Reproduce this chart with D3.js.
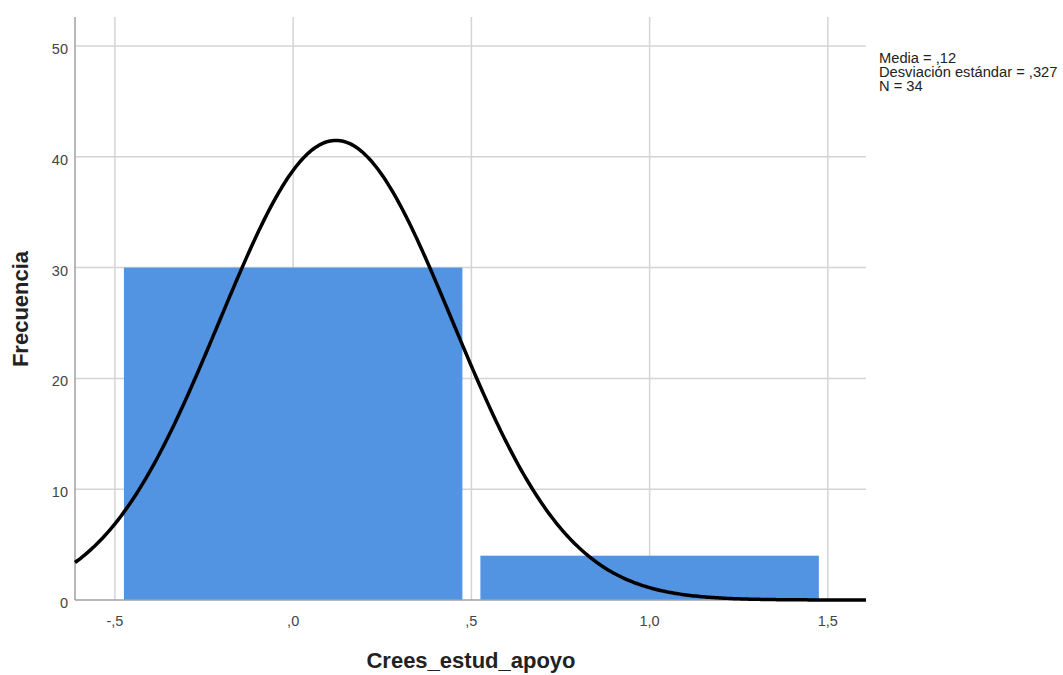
<!DOCTYPE html>
<html><head><meta charset="utf-8">
<script src="https://cdn.jsdelivr.net/npm/d3@7"></script>
<style>
html,body{margin:0;padding:0;background:#fff;}
text{font-family:"Liberation Sans",Arial,sans-serif;}
</style></head>
<body>
<svg id="c" width="1063" height="675"></svg>
<script>
// Data
const binCenters = [0, 1];
const binCounts = [30, 4];
const binWidth = 1;
const stats = { mean: 0.12, sd: 0.327, n: 34 };
const xTicks = [-0.5, 0, 0.5, 1.0, 1.5];
const xTickLabels = ["-,5", ",0", ",5", "1,0", "1,5"];
const yTicks = [0, 10, 20, 30, 40, 50];
const legendLines = ["Media = ,12", "Desviación estándar = ,327", "N = 34"];

const svg = d3.select("#c");
const L = 75, R = 866, T = 17, B = 600;
const x = d3.scaleLinear().domain([-0.612, 1.607]).range([L, R]);
const y = d3.scaleLinear().domain([0, 50]).range([B, 46]);

// gridlines
const g = svg.append("g");
g.selectAll(".hg").data(yTicks.filter(d => d > 0)).join("line")
  .attr("x1", L).attr("x2", R).attr("y1", d => y(d)).attr("y2", d => y(d))
  .attr("stroke", "#d4d4d4").attr("stroke-width", 1.5);
g.selectAll(".vg").data(xTicks).join("line")
  .attr("x1", d => x(d)).attr("x2", d => x(d)).attr("y1", T).attr("y2", B)
  .attr("stroke", "#d4d4d4").attr("stroke-width", 1.5);

// bars
const inset = 9;
svg.append("g").selectAll("rect").data(binCenters.map((c, i) => ({c, v: binCounts[i]}))).join("rect")
  .attr("x", d => x(d.c - binWidth / 2) + inset)
  .attr("width", d => x(d.c + binWidth / 2) - x(d.c - binWidth / 2) - 2 * inset)
  .attr("y", d => y(d.v))
  .attr("height", d => y(0) - y(d.v))
  .attr("fill", "#5294e2");

// axes lines
svg.append("line").attr("x1", L).attr("x2", L).attr("y1", T).attr("y2", B)
  .attr("stroke", "#a0a0a0").attr("stroke-width", 1.5);
svg.append("line").attr("x1", L).attr("x2", R).attr("y1", B).attr("y2", B)
  .attr("stroke", "#a0a0a0").attr("stroke-width", 1.5);

// normal curve from the stated statistics
const dom = x.domain();
const pts = d3.range(0, 401).map(i => dom[0] + (dom[1] - dom[0]) * i / 400);
const dens = v => stats.n * binWidth / (stats.sd * Math.sqrt(2 * Math.PI)) *
  Math.exp(-0.5 * Math.pow((v - stats.mean) / stats.sd, 2));
svg.append("path").datum(pts)
  .attr("d", d3.line().x(d => x(d)).y(d => y(dens(d))).curve(d3.curveLinear))
  .attr("fill", "none").attr("stroke", "#000").attr("stroke-width", 3.5);

// tick labels
svg.append("g").selectAll("text").data(xTicks).join("text")
  .attr("x", d => x(d)).attr("y", 626).attr("text-anchor", "middle")
  .attr("font-size", 14.5).attr("fill", "#444").text((d, i) => xTickLabels[i]);
svg.append("g").selectAll("text").data(yTicks).join("text")
  .attr("x", 68).attr("y", d => y(d) + 8).attr("text-anchor", "end")
  .attr("font-size", 14.5).attr("fill", "#444").text(d => d);

// axis titles
svg.append("text").attr("x", 471).attr("y", 668).attr("text-anchor", "middle")
  .attr("font-size", 22).attr("font-weight", "bold").attr("fill", "#222").text("Crees_estud_apoyo");
svg.append("text").attr("transform", `translate(28,309) rotate(-90)`)
  .attr("text-anchor", "middle").attr("font-size", 22).attr("font-weight", "bold")
  .attr("fill", "#222").text("Frecuencia");

// legend
svg.append("g").selectAll("text").data(legendLines).join("text")
  .attr("x", 879).attr("y", (d, i) => 63 + i * 14)
  .attr("font-size", 14.7).attr("fill", "#222").text(d => d);
</script>
</body></html>
